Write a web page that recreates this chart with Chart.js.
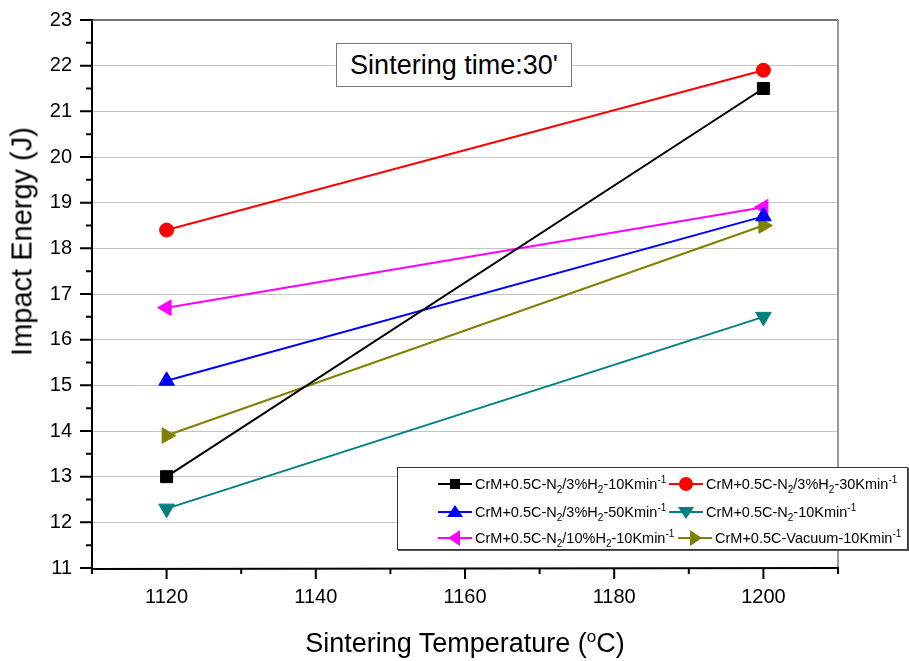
<!DOCTYPE html>
<html>
<head>
<meta charset="utf-8">
<script src="https://cdn.jsdelivr.net/npm/chart.js@4.4.1/dist/chart.umd.min.js"></script>
<style>
  html, body { margin: 0; padding: 0; background: #fff; }
  #wrap { position: relative; width: 909px; height: 661px; font-family: "Liberation Sans", Arial, sans-serif; }
  #chart { position: absolute; left: 0; top: 0; }
  .note {
    position: absolute; left: 336px; top: 43px; width: 234px; height: 42px;
    border: 1px solid #777; background: #fff;
    font-size: 27px; line-height: 42px; text-align: center; color: #000;
  }
  .xtitle {
    position: absolute; left: 92px; width: 746px; top: 630px;
    text-align: center; font-size: 27px; line-height: 27px; color: #000;
  }
  .ytitle {
    position: absolute; left: 22px; top: 242px; width: 400px; margin-left: -200px;
    transform: translateY(-15px) rotate(-90deg); text-align: center;
    font-size: 29px; line-height: 29px; color: #000;
  }
  .xtitle sup { font-size: 17px; vertical-align: 10px; line-height: 0; }
  .legend {
    position: absolute; left: 397px; top: 467px; width: 509px; height: 81px;
    border: 1px solid #333; box-shadow: 1px 1px 0 #555; background: #fff;
  }
  .item { position: absolute; font-size: 14.5px; line-height: 16px; white-space: nowrap; color: #000; }
  .item svg { position: absolute; left: 0; top: -2px; }
  .item span.t { position: absolute; left: 0; top: 0; }
  .item sub { font-size: 10px; vertical-align: -4px; line-height: 0; }
  .item sup { font-size: 10px; vertical-align: 6px; line-height: 0; }
</style>
</head>
<body>
<div id="wrap">
  <canvas id="chart" width="909" height="661"></canvas>
  <div class="note">Sintering time:30'</div>
  <div class="xtitle">Sintering Temperature (<sup>o</sup>C)</div>
  <div class="ytitle">Impact Energy (J)</div>
  <div class="legend" id="legend"></div>
</div>
<script>
// sintering temperatures (°C)
const temps = [1120, 1200];

// impact energy (J) per series
const n2h2_10 = [13.0, 21.5];
const n2h2_30 = [18.4, 21.9];
const n2h2_50 = [15.1, 18.7];
const n2_10 = [12.3, 16.5];
const n2h2x10_10 = [16.7, 18.9];
const vacuum_10 = [13.9, 18.5];

const xTickLabels = [1120, 1140, 1160, 1180, 1200];
const yTickLabels = [11, 12, 13, 14, 15, 16, 17, 18, 19, 20, 21, 22, 23];

// legend labels as html (sub / sup)
const seriesNames = [
  "CrM+0.5C-N<sub>2</sub>/3%H<sub>2</sub>-10Kmin<sup>-1</sup>",
  "CrM+0.5C-N<sub>2</sub>/3%H<sub>2</sub>-30Kmin<sup>-1</sup>",
  "CrM+0.5C-N<sub>2</sub>/3%H<sub>2</sub>-50Kmin<sup>-1</sup>",
  "CrM+0.5C-N<sub>2</sub>-10Kmin<sup>-1</sup>",
  "CrM+0.5C-N<sub>2</sub>/10%H<sub>2</sub>-10Kmin<sup>-1</sup>",
  "CrM+0.5C-Vacuum-10Kmin<sup>-1</sup>"
];

const seriesValues = [n2h2_10, n2h2_30, n2h2_50, n2_10, n2h2x10_10, vacuum_10];
const colors = ["#000000", "#ff0000", "#0000ff", "#008080", "#ff00ff", "#808000"];
const shapes = ["rect", "circle", "triangle", "triangle", "triangle", "triangle"];
const rotations = [0, 0, 0, 180, 270, 90];
const radii = [8.5, 7, 9, 9, 9, 9];

const datasets = seriesValues.map((vals, i) => ({
  label: seriesNames[i],
  data: vals.map((v, j) => ({ x: temps[j], y: v })),
  borderColor: colors[i],
  backgroundColor: colors[i],
  borderWidth: 2,
  pointStyle: shapes[i],
  pointRotation: rotations[i],
  pointRadius: radii[i],
  pointBorderWidth: 1,
  pointHoverRadius: radii[i],
  tension: 0
}));

// axis frame + outward ticks like Origin
const framePlugin = {
  id: "frame",
  afterDatasetsDraw(chart) {
    const { ctx, chartArea: a, scales } = chart;
    const xs = scales.x, ys = scales.y;
    ctx.save();
    // top border
    ctx.strokeStyle = "#444";
    ctx.lineWidth = 1.5;
    ctx.beginPath();
    ctx.moveTo(a.left, a.top); ctx.lineTo(a.right, a.top);
    ctx.stroke();
    // right border
    ctx.strokeStyle = "#999";
    ctx.lineWidth = 2;
    ctx.beginPath();
    ctx.moveTo(a.right, a.top); ctx.lineTo(a.right, a.bottom);
    ctx.stroke();
    // left + bottom axes
    ctx.strokeStyle = "#000";
    ctx.lineWidth = 2;
    ctx.beginPath();
    ctx.moveTo(a.left, a.top - 1); ctx.lineTo(a.left, a.bottom + 1);
    ctx.lineTo(a.right + 1, a.bottom);
    ctx.stroke();
    // x ticks
    ctx.beginPath();
    for (let v = xs.min; v <= xs.max + 0.01; v += 10) {
      const px = xs.getPixelForValue(v);
      const major = xTickLabels.includes(v);
      ctx.moveTo(px, a.bottom); ctx.lineTo(px, a.bottom + (major ? 11 : 6));
    }
    // y ticks
    for (let v = ys.min; v <= ys.max + 0.01; v += 0.5) {
      const py = ys.getPixelForValue(v);
      const major = Number.isInteger(v);
      ctx.moveTo(a.left, py); ctx.lineTo(a.left - (major ? 12 : 6), py);
    }
    ctx.stroke();
    ctx.restore();
  }
};

new Chart(document.getElementById("chart"), {
  type: "line",
  data: { datasets },
  options: {
    responsive: false,
    animation: false,
    devicePixelRatio: 1,
    layout: { padding: { top: 20, right: 71, left: 0, bottom: 0 } },
    plugins: { legend: { display: false }, tooltip: { enabled: false } },
    scales: {
      x: {
        type: "linear",
        min: 1110,
        max: 1210,
        afterBuildTicks: (s) => { s.ticks = xTickLabels.map((v) => ({ value: v })); },
        afterFit: (s) => { s.height = 93; s.paddingLeft = 0; s.paddingRight = 0; },
        grid: { display: false, drawTicks: false },
        border: { display: false },
        ticks: {
          padding: 17,
          color: "#000",
          font: { family: "Liberation Sans", size: 20 },
          callback: (v) => String(v)
        }
      },
      y: {
        min: 11,
        max: 23,
        afterBuildTicks: (s) => { s.ticks = yTickLabels.map((v) => ({ value: v })); },
        afterFit: (s) => { s.width = 92; s.paddingTop = 0; s.paddingBottom = 0; },
        grid: {
          drawTicks: false,
          color: (c) => (c.tick && (c.tick.value === 11 || c.tick.value === 23)) ? "rgba(0,0,0,0)" : "#c4c4c4",
          lineWidth: 1
        },
        border: { display: false },
        ticks: {
          padding: 20,
          color: "#000",
          font: { family: "Liberation Sans", size: 20 },
          callback: (v) => String(v)
        }
      }
    }
  },
  plugins: [framePlugin]
});

// legend (html text, svg swatches)
function swatch(i) {
  const c = colors[i];
  let mark = "";
  const cx = 17, cy = 10;
  if (shapes[i] === "rect") {
    mark = `<rect x="${cx - 5}" y="${cy - 5}" width="10" height="10" fill="${c}"/>`;
  } else if (shapes[i] === "circle") {
    mark = `<circle cx="${cx}" cy="${cy}" r="7" fill="${c}"/>`;
  } else {
    mark = `<polygon points="${cx},${cy - 7} ${cx + 8},${cy + 5} ${cx - 8},${cy + 5}" fill="${c}" transform="rotate(${rotations[i]} ${cx} ${cy})"/>`;
  }
  return `<svg width="34" height="20"><line x1="0" y1="${cy}" x2="34" y2="${cy}" stroke="${c}" stroke-width="2"/>${mark}</svg>`;
}
const legendPos = [
  [40, 8], [271, 8],
  [40, 36], [271, 36],
  [40, 62], [280, 62]
];
const legendEl = document.getElementById("legend");
seriesNames.forEach((name, i) => {
  const d = document.createElement("div");
  d.className = "item";
  d.style.left = legendPos[i][0] + "px";
  d.style.top = legendPos[i][1] + "px";
  d.innerHTML = swatch(i) + `<span class="t" style="left:37px">${name}</span>`;
  legendEl.appendChild(d);
});
</script>
</body>
</html>
